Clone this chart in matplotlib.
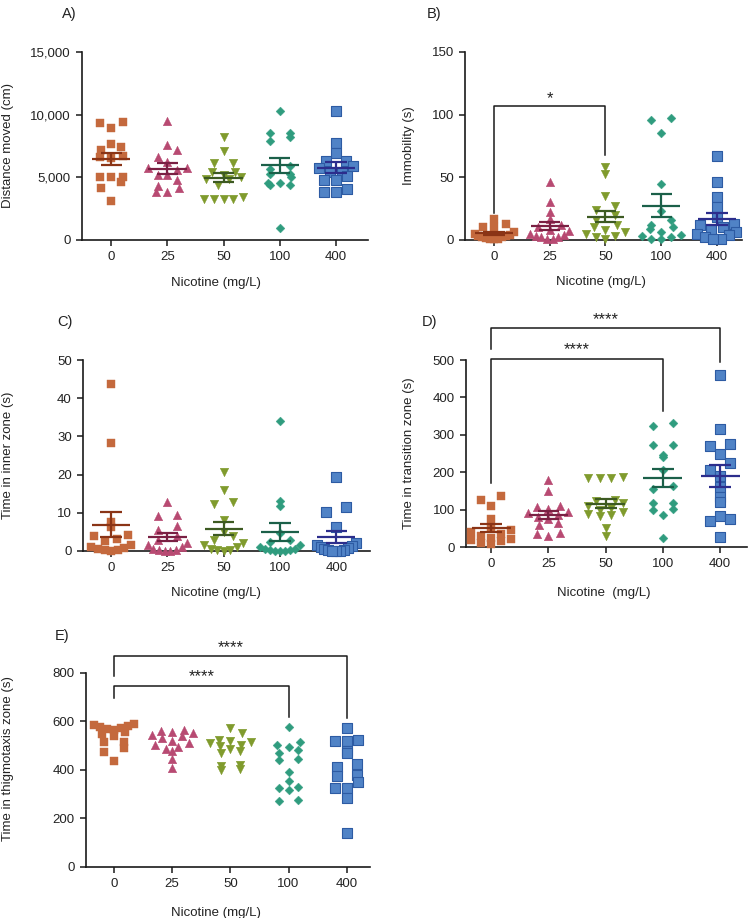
import matplotlib
matplotlib.use("Agg")
import matplotlib.pyplot as plt
from matplotlib.ticker import FuncFormatter
import numpy as np

plt.rcParams['font.family'] = ['Liberation Sans', 'DejaVu Sans']

# doses (mg/L)
doses = ["0", "25", "50", "100", "400"]

# A) distance moved (cm)
distance = [
    [9450, 9350, 8950, 7650, 7450, 7150, 6700, 6650, 6500, 5000, 5050, 5000, 4600, 4150, 3100],
    [9500, 7580, 7180, 6650, 6250, 5720, 5720, 5600, 5190, 5190, 4790, 4310, 4120, 3860, 3860],
    [8190, 7130, 6170, 6170, 5450, 5450, 5200, 5000, 4850, 4850, 4390, 3460, 3250, 3250, 3250, 3250],
    [10320, 8510, 8510, 8240, 7920, 5900, 5690, 5270, 5270, 5000, 4580, 4580, 4350, 4350, 930],
    [10320, 7710, 6970, 6330, 6330, 5900, 5720, 5450, 5450, 5110, 4760, 4760, 4050, 3790, 3790],
]
# B) immobility (s)
immobility = [
    [16.5, 12.5, 10.5, 10, 6, 5, 4, 3, 3, 2, 2, 1.5, 1, 0.5, 0.5],
    [46, 30, 22, 17, 12, 10, 8, 7, 5, 4, 3, 2, 2, 1, 1],
    [58, 53, 35, 27, 24, 20, 16, 12, 10, 8, 6, 5, 3, 2, 1],
    [97, 96, 85, 45, 23, 16, 12, 10, 9, 6, 4, 3, 2, 1, 1],
    [67, 46, 34, 26, 18, 13, 12, 10, 8, 6, 5, 4, 2, 1, 1],
]
# C) time in inner zone (s)
inner = [
    [43.7, 28.4, 7.7, 6.2, 4.1, 3.8, 3.2, 2.5, 1.5, 1, 0.8, 0.5, 0.3, 0.2, 0.1],
    [12.9, 9.2, 9.3, 6.5, 5.5, 4, 3, 2, 1.5, 1, 0.5, 0.3, 0.2, 0.1, 0.1],
    [20.8, 16, 12.9, 12.2, 8.1, 5, 4, 3, 2, 1.5, 1, 0.5, 0.3, 0.2, 0.1],
    [34.1, 13.1, 11.8, 4.8, 2.8, 2.3, 1.5, 1, 0.5, 0.4, 0.3, 0.2, 0.1, 0.1, 0.1],
    [19.5, 11.5, 10.1, 6.3, 2, 1.5, 1.2, 1, 0.8, 0.5, 0.3, 0.2, 0.1, 0.1, 0.1],
]
# D) time in transition zone (s)
transition = [
    [136, 126, 110, 76, 50, 45, 40, 35, 30, 25, 22, 18, 15, 12, 8],
    [179, 150, 110, 107, 103, 95, 90, 85, 80, 75, 65, 58, 38, 34, 30],
    [186, 185, 184, 184, 125, 124, 118, 110, 105, 100, 95, 88, 85, 82, 52, 30],
    [332, 323, 273, 272, 246, 240, 207, 163, 155, 119, 118, 102, 99, 86, 25],
    [460, 315, 275, 270, 248, 225, 207, 190, 160, 134, 121, 82, 76, 70, 26],
]
# E) time in thigmotaxis zone (s)
thigmo = [
    [590, 587, 583, 578, 575, 570, 565, 558, 548, 540, 516, 514, 490, 475, 437],
    [565, 562, 557, 553, 545, 540, 530, 520, 512, 505, 495, 485, 480, 444, 407],
    [572, 551, 525, 520, 515, 510, 505, 500, 485, 478, 470, 420, 415, 405, 400],
    [576, 514, 503, 496, 482, 471, 445, 440, 393, 356, 328, 327, 316, 275, 272],
    [574, 525, 521, 518, 478, 469, 423, 413, 380, 376, 351, 327, 324, 286, 141],
]

colors = ["#C4693D", "#B84A72", "#809B2D", "#2F9C7E", "#5083C6"]
edges = ["#C4693D", "#B84A72", "#809B2D", "#2F9C7E", "#2D5BA3"]
mean_colors = ["#8A3416", "#7A2043", "#3D5A22", "#1B6049", "#2C2D8C"]
markers = ["s", "^", "v", "D", "s"]
sizes = [34, 38, 38, 20, 42]
diam = [8.5, 9, 9, 7, 9.5]
slot_px = 11.5


def swarm_x(ax, xc, vals, d, maxhalf=0.35):
    # prism-like column scatter: bin by y, spread each bin sideways
    pts = ax.transData.transform(np.column_stack([np.full(len(vals), xc), vals]))
    xpx = pts[0, 0]
    ypx = pts[:, 1]
    y0 = ax.transData.transform((xc, ax.get_ylim()[0]))[1]
    unit = ax.transData.transform((xc + 1, 0))[0] - xpx
    half = maxhalf * unit
    out = np.full(len(vals), xpx)
    bins = np.floor((ypx - y0) / d).astype(int)
    for b in np.unique(bins):
        idx = np.where(bins == b)[0]
        idx = idx[np.argsort(ypx[idx])]
        n = len(idx)
        if n == 1:
            continue
        s = slot_px * (1.7 if n == 2 else 1.0)
        if (n - 1) * s / 2 > half:
            s = 2 * half / (n - 1)
        slots = (np.arange(n) - (n - 1) / 2) * s
        slots = slots[np.argsort(np.abs(slots) + 1e-6 * np.arange(n))]
        out[idx] = xpx + slots
    back = ax.transData.inverted().transform(np.column_stack([out, ypx]))
    return back[:, 0]


def panel(fig, rect, data, ylim, yticks, ylabel, xlabel, xlim,
          ylab_pos, xlab_pos, show_mean=True, comma=False):
    ax = fig.add_axes(rect)
    ax.set_xlim(*xlim)
    ax.set_ylim(*ylim)
    for i, vals in enumerate(data):
        vals = np.array(vals, dtype=float)
        xs = swarm_x(ax, i, vals, diam[i])
        ax.scatter(xs, vals, marker=markers[i], s=sizes[i], color=colors[i],
                   edgecolor=edges[i], linewidth=0.8 if i == 4 else 0.3, zorder=3,
                   clip_on=False)
        if show_mean:
            m = vals.mean()
            sem = vals.std(ddof=1) / np.sqrt(len(vals))
            mc = mean_colors[i]
            ax.hlines(m, i - 0.34, i + 0.34, color=mc, lw=1.6, zorder=4)
            ax.hlines([m - sem, m + sem], i - 0.19, i + 0.19, color=mc, lw=1.6, zorder=4)
            ax.vlines(i, m - sem, m + sem, color=mc, lw=1.6, zorder=4)
    ax.set_xticks(range(5))
    ax.set_xticklabels(doses)
    ax.set_yticks(yticks)
    if comma:
        ax.yaxis.set_major_formatter(FuncFormatter(lambda v, p: "{:,.0f}".format(v)))
    for s in ["top", "right"]:
        ax.spines[s].set_visible(False)
    for s in ["left", "bottom"]:
        ax.spines[s].set_linewidth(1.2)
        ax.spines[s].set_color("#1a1a1a")
    ax.tick_params(length=4, width=1.1, labelsize=9.5, color="#1a1a1a",
                   labelcolor="#222222", pad=4)
    ax.set_ylabel(ylabel, fontsize=9.5, color="#222222")
    ax.set_xlabel(xlabel, fontsize=9.5, color="#222222")
    ax.yaxis.set_label_coords(*ylab_pos)
    ax.xaxis.set_label_coords(*xlab_pos)
    ax.xaxis.label.set_va("center")
    ax.yaxis.label.set_va("center")
    return ax


def bracket(ax, x1, x2, top, y1, y2, ytext, text):
    ax.plot([x1, x1, x2, x2], [y1, top, top, y2], color="#1a1a1a", lw=1.1,
            clip_on=False, zorder=5)
    ax.text((x1 + x2) / 2, ytext, text, ha="center", va="center", fontsize=12,
            color="#222222", clip_on=False)


fig = plt.figure(figsize=(7.48, 9.18), dpi=100)

axA = panel(fig, [0.1096, 0.7386, 0.3824, 0.2048], distance, (0, 15000),
            [0, 5000, 10000, 15000], "Distance moved (cm)", "Nicotine (mg/L)",
            (-0.52, 4.57), (-0.259, 0.5), (0.469, -0.229), comma=True)
axB = panel(fig, [0.6217, 0.7386, 0.3703, 0.2048], immobility, (0, 150),
            [0, 50, 100, 150], "Immobility (s)", "Nicotine (mg/L)",
            (-0.52, 4.45), (-0.202, 0.5), (0.49, -0.223))
axC = panel(fig, [0.111, 0.3998, 0.3837, 0.208], inner, (0, 50),
            [0, 10, 20, 30, 40, 50], "Time in inner zone (s)", "Nicotine (mg/L)",
            (-0.5, 4.6), (-0.261, 0.5), (0.463, -0.22))
axD = panel(fig, [0.623, 0.4041, 0.3757, 0.2037], transition, (0, 500),
            [0, 100, 200, 300, 400, 500], "Time in transition zone (s)", "Nicotine  (mg/L)",
            (-0.44, 4.47), (-0.203, 0.5), (0.49, -0.246))
axE = panel(fig, [0.115, 0.0556, 0.3797, 0.2113], thigmo, (0, 800),
            [0, 200, 400, 600, 800], "Time in thigmotaxis zone (s)", "Nicotine (mg/L)",
            (-0.48, 4.4), (-0.275, 0.56), (0.458, -0.237), show_mean=False)

# significance brackets
bracket(axB, 0, 2, 107, 21.5, 68, 113, "*")
bracket(axD, 0, 4, 586, 529, 495, 608, "****")
bracket(axD, 0, 3, 503, 172, 364, 527, "****")
bracket(axE, 0, 4, 870, 788, 613, 905, "****")
bracket(axE, 0, 3, 746, 696, 617, 785, "****")

# panel letters
for x, y, t in [(62, 14, "A)"), (427, 14, "B)"), (57, 322, "C)"), (422, 322, "D)"), (55, 636, "E)")]:
    fig.text(x / 748, 1 - y / 918, t, fontsize=10.5, color="#222222", va="center")

fig.savefig("out.png", dpi=100)
